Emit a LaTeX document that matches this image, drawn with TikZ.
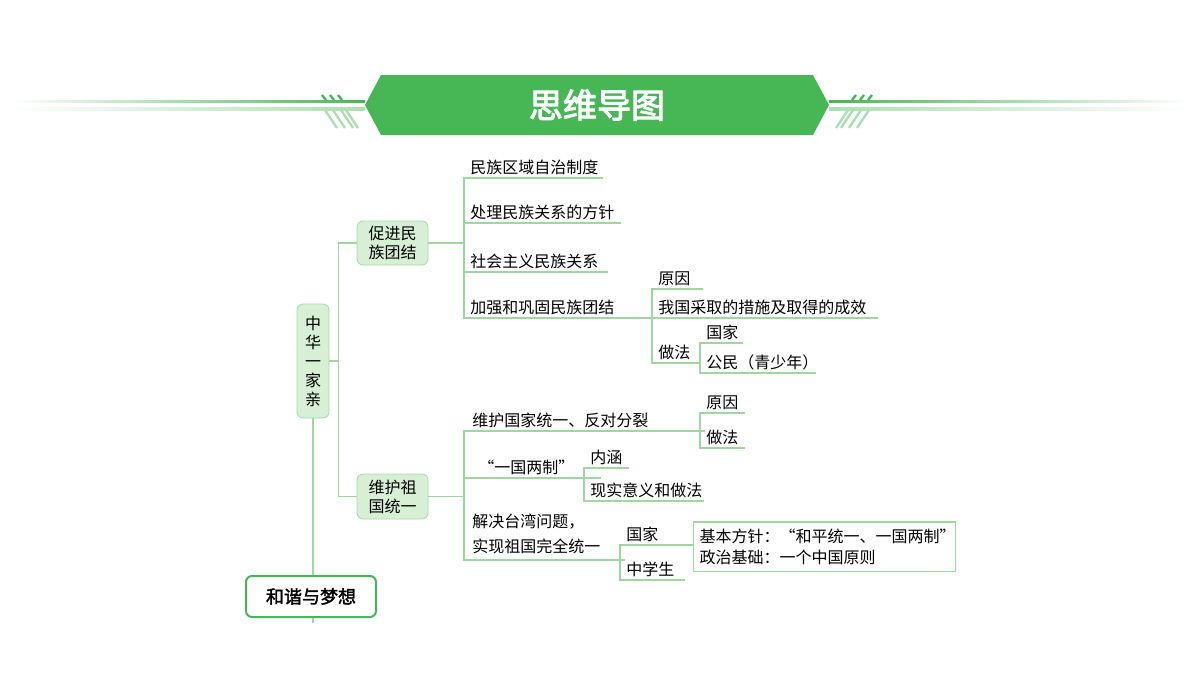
\documentclass[tikz,border=0pt]{standalone}
\usepackage{fontspec}
\setmainfont{Noto Sans CJK SC}
\newfontfamily\titlefont[FakeBold=3]{Noto Sans CJK SC}
\newfontfamily\boxfont[FakeBold=2]{Noto Sans CJK SC}
\definecolor{mapgreen}{HTML}{47B755}
\definecolor{linegreen}{HTML}{9FD89F}
\definecolor{boxfill}{HTML}{D7EFD5}
\definecolor{boxline}{HTML}{A6D9A6}
\begin{document}
\begin{tikzpicture}[x=0.5pt,y=-0.5pt,
        link/.style = {draw=linegreen, line width=0.6pt},
        topic/.style = {draw=boxline, fill=boxfill, rounded corners=3pt, align=center,
            font=\fontsize{8}{9.5}\selectfont, inner sep=0pt},
        leaf/.style = {anchor=south west, inner xsep=3pt, inner ysep=1.2pt, align=left,
            font=\fontsize{8}{11}\selectfont},
        stripe/.style = {line width=1.2pt}]
    \useasboundingbox (0,0) rectangle (1200,675);
    % header
    \shade[left color=white, right color=mapgreen] (10,100) rectangle (365,102.5);
    \shade[left color=white, right color=mapgreen!45] (10,107) rectangle (365,110);
    \shade[right color=white, left color=mapgreen] (829,100) rectangle (1190,102.5);
    \shade[right color=white, left color=mapgreen!45] (829,107) rectangle (1190,110);
    \foreach \x in {322,330,338} {
        \draw[stripe, mapgreen] (\x,95) -- (\x+4,100);
        \draw[stripe, mapgreen!45] (\x+3,110) -- (\x+15,128);
        \draw[stripe, mapgreen] (1194-\x,95) -- (1190-\x,100);
        \draw[stripe, mapgreen!45] (1191-\x,110) -- (1179-\x,128);
    }
    \draw[stripe, mapgreen!45] (346,110) -- (358,128);
    \draw[stripe, mapgreen!45] (848,110) -- (836,128);
    \fill[mapgreen] (381,75) -- (813,75) -- (829,105) -- (813,135) -- (381,135) -- (365,105) -- cycle;
    \node[text=white, font=\titlefont\fontsize{17}{17}\selectfont] (title) at (597,105) {思维导图};
    % topics
    \node[topic, minimum width=16pt, minimum height=57pt] (home) at (313,361) {中\\华\\一\\家\\亲};
    \node[topic, minimum width=35.5pt, minimum height=22pt] (unity) at (392.5,243) {促进民\\族团结};
    \node[topic, minimum width=35.5pt, minimum height=22.5pt] (nation) at (392.5,496.5) {维护祖\\国统一};
    \node[draw=mapgreen, line width=1pt, rounded corners=3pt, fill=white, minimum width=65pt,
        minimum height=20.5pt, font=\boxfont\fontsize{9}{9}\selectfont] (dream) at (311,596.5) {和谐与梦想};
    \draw[link] (home.south) -- (home.south |- dream.north);
    \draw[link] (home.south |- dream.south) -- ++(0,5);
    \draw[link] (home.east) -- ++(9,0) coordinate (j0);
    \draw[link] (unity.west) -| (j0) |- (nation.west);
    % 促进民族团结
    \node[leaf, text width=63pt] (u1) at (464,178) {民族区域自治制度};
    \node[leaf, text width=72pt] (u2) at (464,223) {处理民族关系的方针};
    \node[leaf, text width=65.5pt] (u3) at (464,272) {社会主义民族关系};
    \node[leaf, text width=88pt] (u4) at (464,318) {加强和巩固民族团结};
    \draw[link] (unity.east) -- (u1.south west |- unity.east);
    \draw[link] (u1.south east) -- (u1.south west) -- (u4.south west) -- (u4.south east);
    \foreach \n in {u2,u3} \draw[link] (\n.south west) -- (\n.south east);
    \node[leaf, text width=19pt] (u41) at (652,289) {原因};
    \node[leaf, text width=106.5pt] (u42) at (652,318) {我国采取的措施及取得的成效};
    \node[leaf, text width=18pt] (u43) at (652,363) {做法};
    \draw[link] (u41.south east) -- (u41.south west) -- (u43.south west) -- (u43.south east);
    \draw[link] (u42.south west) -- (u42.south east);
    \node[leaf, text width=15pt] (u431) at (700,343) {国家};
    \node[leaf, text width=51.5pt] (u432) at (700,373) {公民（青少年）};
    \draw[link] (u431.south east) -- (u431.south west) -- (u432.south west) -- (u432.south east);
    % 维护祖国统一
    \node[leaf, text width=112pt, inner xsep=4pt] (n1) at (464,431) {维护国家统一、反对分裂};
    \node[leaf, text width=54pt, inner xsep=7pt] (n2) at (464,478) {“一国两制”};
    \node[leaf, text width=72pt, inner ysep=3pt, inner xsep=4pt, font=\fontsize{8}{12.5}\selectfont] (n3) at (464,560) {解决台湾问题，\\实现祖国完全统一};
    \draw[link] (nation.east) -- (n1.south west |- nation.east);
    \draw[link] (n1.south east) -- (n1.south west) -- (n3.south west) -- (n3.south east);
    \draw[link] (n2.south west) -- (n2.south east);
    \node[leaf, text width=16pt] (n11) at (700,413) {原因};
    \node[leaf, text width=16pt] (n12) at (700,448) {做法};
    \draw[link] (n11.south east) -- (n11.south west) -- (n12.south west) -- (n12.south east);
    \node[leaf, text width=16pt] (n21) at (584,468) {内涵};
    \node[leaf, text width=53.5pt] (n22) at (584,501) {现实意义和做法};
    \draw[link] (n21.south east) -- (n21.south west) -- (n22.south west) -- (n22.south east);
    \node[leaf, text width=30pt] (n31) at (620,545) {国家};
    \node[leaf, text width=26pt] (n32) at (620,580) {中学生};
    \draw[link] (n31.south east) -- (n31.south west) -- (n32.south west) -- (n32.south east);
    \node[draw=linegreen, line width=0.6pt, anchor=west, minimum width=131pt, minimum height=22.5pt,
        inner xsep=3pt, align=left, font=\fontsize{8}{10.5}\selectfont, text width=125pt]
        (policy) at (693,546.5) {基本方针：“和平统一、一国两制”\\政治基础：一个中国原则};
\end{tikzpicture}
\end{document}
